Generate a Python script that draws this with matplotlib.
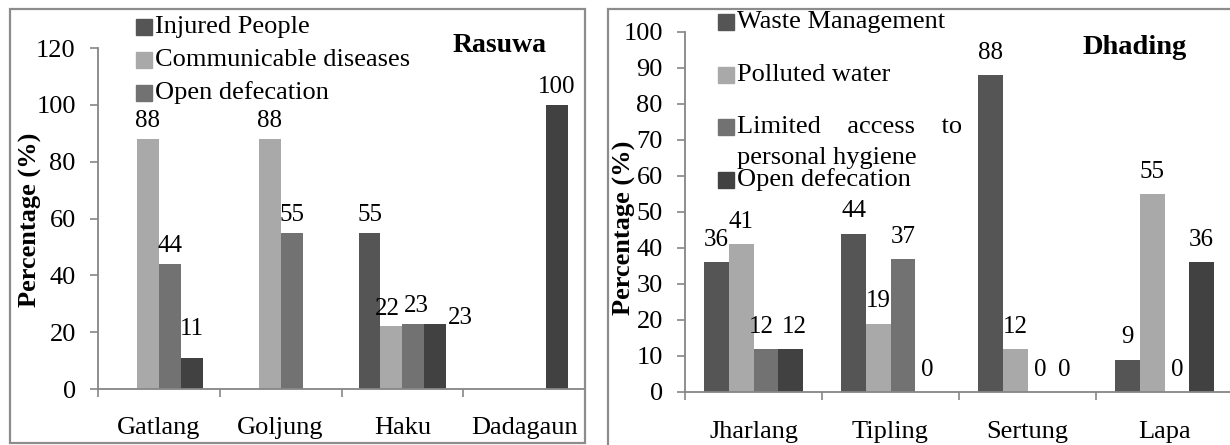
import matplotlib
matplotlib.use("Agg")
import matplotlib.pyplot as plt
from matplotlib.patches import Rectangle
import numpy as np

plt.rcParams['font.family'] = ['Liberation Serif', 'DejaVu Serif']

# Rasuwa (left panel)
rasuwa_villages = ["Gatlang", "Goljung", "Haku", "Dadagaun"]
rasuwa_names = ["Injured People", "Communicable diseases", "Open defecation"]
rasuwa_injured = [0, 0, 55, 0]
rasuwa_communicable = [88, 88, 22, 0]
rasuwa_open_def = [44, 55, 23, 0]
rasuwa_fourth = [11, 0, 23, 100]
rasuwa_ticks = [0, 20, 40, 60, 80, 100, 120]

# Dhading (right panel)
dhading_villages = ["Jharlang", "Tipling", "Sertung", "Lapa"]
dhading_names = ["Waste Management", "Polluted water",
                 "Limited    access    to\npersonal hygiene", "Open defecation"]
dhading_waste = [36, 44, 88, 9]
dhading_water = [41, 19, 12, 55]
dhading_hygiene = [12, 37, 0, 0]
dhading_open_def = [12, 0, 0, 36]
dhading_ticks = [0, 10, 20, 30, 40, 50, 60, 70, 80, 90, 100]

colors = ["#555555", "#a9a9a9", "#727272", "#414141"]
axis_grey = "#868686"
FS = 19
W, H = 1230, 445


def fx(px):
    return px / W


def fy(py):
    return 1 - py / H


def panel(ax, villages, series, ticks, skip_zero, label_pad, xlab_pad, shifts):
    x = np.arange(len(villages))
    w = 0.18
    for i, vals in enumerate(series):
        bars = ax.bar(x + (i - 1.5) * w, vals, w, color=colors[i], zorder=2)
        for j, (b, v) in enumerate(zip(bars, vals)):
            if skip_zero and v == 0:
                continue
            dx, dy = shifts.get((i, j), (0, 0))
            ax.annotate(str(v), (b.get_x() + b.get_width() / 2, b.get_height()),
                        xytext=(dx, label_pad + dy), textcoords='offset points',
                        ha='center', va='bottom', fontsize=18)
    ax.set_xlim(-0.5, len(villages) - 0.5)
    ax.set_ylim(ticks[0], ticks[-1])
    ax.set_yticks(ticks)
    ax.set_xticks(np.arange(len(villages) + 1) - 0.5)
    ax.set_xticklabels([])
    ax.set_xticks(x, minor=True)
    ax.set_xticklabels(villages, minor=True, fontsize=FS)
    ax.tick_params(axis='x', which='major', length=6, width=1.2,
                   color=axis_grey, direction='out')
    ax.tick_params(axis='x', which='minor', length=0, pad=xlab_pad)
    ax.tick_params(axis='y', length=6, width=1.2, color=axis_grey,
                   labelsize=FS, pad=10)
    for s in ["top", "right"]:
        ax.spines[s].set_visible(False)
    for s in ["left", "bottom"]:
        ax.spines[s].set_color(axis_grey)
        ax.spines[s].set_linewidth(1.3)
    ax.set_facecolor("none")


def key(fig, px, py, color, text):
    fig.add_artist(Rectangle((fx(px), fy(py + 8)), fx(16), 16 / H,
                             transform=fig.transFigure, color=color))
    fig.text(fx(px + 19), fy(py), text, fontsize=FS, va='center', ha='left')


fig = plt.figure(figsize=(12.3, 4.45), dpi=100)

# chart area borders
fig.add_artist(Rectangle((fx(10), fy(443)), fx(575), 434 / H,
                         transform=fig.transFigure, fill=False,
                         edgecolor="#8c8c8c", linewidth=1.6))
fig.add_artist(Rectangle((fx(608), fy(447)), fx(630), 438 / H,
                         transform=fig.transFigure, fill=False,
                         edgecolor="#8c8c8c", linewidth=1.6))

ax1 = fig.add_axes([fx(98), fy(389), fx(585 - 98), (389 - 48) / H])
panel(ax1, rasuwa_villages,
      [rasuwa_injured, rasuwa_communicable, rasuwa_open_def, rasuwa_fourth],
      rasuwa_ticks, True, 5, 20,
      {(3, 2): (18, -9), (3, 0): (0, 8), (1, 2): (-3, 0), (2, 2): (2, 0)})
fig.text(fx(30), fy(220), "Percentage (%)", rotation=90, fontsize=FS,
         fontweight='bold', ha='center', va='center')
fig.text(fx(500), fy(45), "Rasuwa", fontsize=20, fontweight='bold',
         ha='center', va='center')
for i, name in enumerate(rasuwa_names):
    key(fig, 136, 27 + 33 * i, colors[i], name)

ax2 = fig.add_axes([fx(685), fy(392), fx(1233 - 685), (392 - 32) / H])
panel(ax2, dhading_villages,
      [dhading_waste, dhading_water, dhading_hygiene, dhading_open_def],
      dhading_ticks, False, 8, 21, {(2, 0): (-3, 0), (3, 0): (3, 0)})
fig.text(fx(624), fy(228), "Percentage (%)", rotation=90, fontsize=FS,
         fontweight='bold', ha='center', va='center')
fig.text(fx(1135), fy(47), "Dhading", fontsize=20.5, fontweight='bold',
         ha='center', va='center')
key_rows = [22, 75, 127, 180]
for i, name in enumerate(dhading_names):
    key(fig, 718, key_rows[i], colors[i], name.split("\n")[0])
    if "\n" in name:
        fig.text(fx(737), fy(158), name.split("\n")[1], fontsize=FS,
                 va='center', ha='left')

fig.savefig("out.png", dpi=100)
